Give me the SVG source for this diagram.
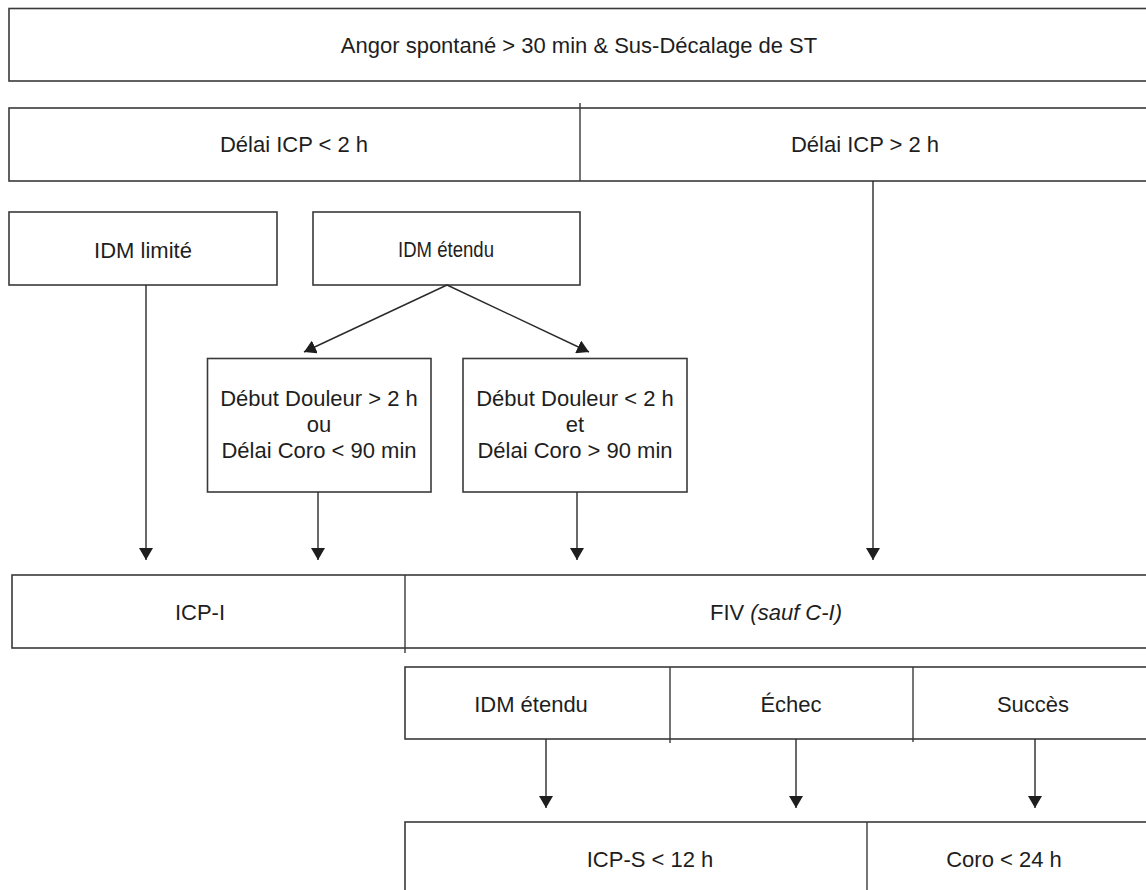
<svg xmlns="http://www.w3.org/2000/svg" width="1146" height="890" viewBox="0 0 1146 890">
  <style>
    .box { fill: #ffffff; stroke: #3a3a3a; stroke-width: 1.6; }
    .div { stroke: #3a3a3a; stroke-width: 1.4; fill: none; }
    .lbl { font-family: "Liberation Sans", Arial, sans-serif; font-size: 22px; fill: #1e1e1e; text-anchor: middle; }
    .con { stroke: #2a2a2a; stroke-width: 1.4; fill: none; marker-end: url(#arrow); }
  </style>
  <defs>
    <marker id="arrow" viewBox="0 0 12 14" refX="12" refY="7" markerWidth="12" markerHeight="14" markerUnits="userSpaceOnUse" orient="auto">
      <path d="M0,0 L12,7 L0,14 Z" fill="#1e1e1e"/>
    </marker>
  </defs>
  <rect width="1146" height="890" fill="#ffffff"/>

  <!-- Top condition -->
  <g id="angor">
    <rect class="box" x="9" y="8.5" width="1150" height="72.5"/>
    <text class="lbl" x="579" y="53">Angor spontané &gt; 30 min &amp; Sus-Décalage de ST</text>
  </g>

  <!-- Delay split -->
  <g id="delai">
    <rect class="box" x="9" y="108" width="1150" height="73"/>
    <line class="div" x1="580" y1="103" x2="580" y2="181"/>
    <text class="lbl" x="294" y="152">Délai ICP &lt; 2 h</text>
    <text class="lbl" x="865" y="152">Délai ICP &gt; 2 h</text>
  </g>

  <g id="idm-limite">
    <rect class="box" x="9" y="212" width="268" height="73"/>
    <text class="lbl" x="143" y="258">IDM limité</text>
  </g>

  <g id="idm-etendu">
    <rect class="box" x="313" y="212" width="267" height="73"/>
    <text class="lbl" x="446" y="257" textLength="96" lengthAdjust="spacingAndGlyphs">IDM étendu</text>
  </g>

  <g id="douleur-sup">
    <rect class="box" x="207.5" y="358.5" width="223.5" height="133.5"/>
    <text class="lbl" x="319" y="406">Début Douleur &gt; 2 h</text>
    <text class="lbl" x="319" y="432">ou</text>
    <text class="lbl" x="319" y="458">Délai Coro &lt; 90 min</text>
  </g>

  <g id="douleur-inf">
    <rect class="box" x="463" y="358.5" width="224" height="133.5"/>
    <text class="lbl" x="575" y="406">Début Douleur &lt; 2 h</text>
    <text class="lbl" x="575" y="432">et</text>
    <text class="lbl" x="575" y="458">Délai Coro &gt; 90 min</text>
  </g>

  <!-- Treatment row -->
  <g id="traitement">
    <rect class="box" x="12" y="575" width="1150" height="73"/>
    <line class="div" x1="405" y1="575" x2="405" y2="653"/>
    <text class="lbl" x="200" y="620">ICP-I</text>
    <text class="lbl" x="776" y="620">FIV <tspan font-style="italic">(sauf C-I)</tspan></text>
  </g>

  <!-- Outcome after fibrinolysis -->
  <g id="resultat">
    <rect class="box" x="405" y="667" width="760" height="72"/>
    <line class="div" x1="670" y1="667" x2="670" y2="743"/>
    <line class="div" x1="913" y1="667" x2="913" y2="742"/>
    <text class="lbl" x="531" y="712">IDM étendu</text>
    <text class="lbl" x="791" y="712">Échec</text>
    <text class="lbl" x="1033" y="712">Succès</text>
  </g>

  <g id="suite">
    <rect class="box" x="405" y="822" width="760" height="80"/>
    <line class="div" x1="867" y1="822" x2="867" y2="890"/>
    <text class="lbl" x="650" y="867">ICP-S &lt; 12 h</text>
    <text class="lbl" x="1004" y="867">Coro &lt; 24 h</text>
  </g>

  <!-- Connectors -->
  <g id="connecteurs">
    <line class="con" x1="146" y1="285" x2="146" y2="560"/>
    <line class="con" x1="447" y1="285" x2="304" y2="352"/>
    <line class="con" x1="447" y1="285" x2="589" y2="352"/>
    <line class="con" x1="318" y1="492" x2="318" y2="560"/>
    <line class="con" x1="577" y1="492" x2="577" y2="560"/>
    <line class="con" x1="873" y1="181" x2="873" y2="560"/>
    <line class="con" x1="546" y1="739" x2="546" y2="808"/>
    <line class="con" x1="796" y1="739" x2="796" y2="808"/>
    <line class="con" x1="1035" y1="739" x2="1035" y2="808"/>
  </g>
</svg>
